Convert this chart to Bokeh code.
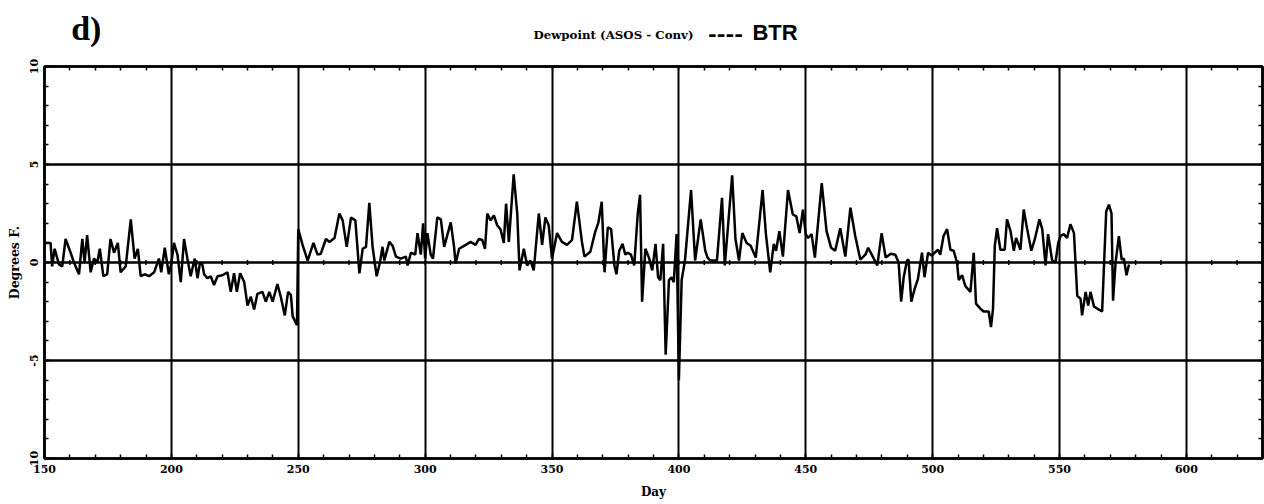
from bokeh.plotting import figure
from bokeh.layouts import column
from bokeh.models import LinearAxis, FixedTicker, Range1d
from bokeh.core.properties import value
from bokeh.embed import file_html
from bokeh.resources import INLINE

# ---- data ----
days = [150.0, 152.4, 153.0, 154.0, 155.7, 157.0, 158.3, 160.3, 161.6, 163.6, 164.9, 165.8, 166.8, 168.2,
        169.5, 170.8, 171.8, 173.2, 174.7, 176.0, 177.4, 178.9, 180.0, 182.0, 184.0, 185.5, 186.8, 187.9,
        189.5, 191.2, 193.2, 195.1, 196.0, 197.4, 199.0, 200.0, 201.0, 202.4, 203.7, 205.0, 206.3, 207.6,
        209.2, 210.3, 211.3, 212.2, 212.9, 214.2, 215.5, 216.8, 218.2, 220.1, 222.1, 223.4, 224.7, 225.8,
        227.1, 228.7, 230.0, 231.3, 232.6, 233.9, 235.9, 237.2, 238.6, 239.9, 241.8, 243.2, 244.7, 246.0,
        247.1, 247.8, 249.5, 250.0, 251.7, 253.7, 256.0, 257.6, 258.9, 260.9,
        262.3, 264.3, 266.2, 267.5, 269.1, 270.8, 272.5, 274.1, 275.4, 276.7, 278.0, 279.3, 280.9, 282.2,
        283.2, 283.9, 285.9, 287.2, 288.5, 290.4, 292.4, 293.1, 294.4, 296.1, 297.0, 298.3, 299.2, 300.0,
        300.9, 302.2, 303.1, 304.8, 306.2, 307.5, 310.1, 311.4, 312.0, 313.4, 316.0, 317.9, 319.9, 321.2,
        322.5, 323.6, 324.5, 325.8, 327.1, 328.4, 329.7, 331.0, 331.9, 333.0, 334.9, 336.3, 337.2, 338.9,
        340.2, 341.5, 342.8, 344.8, 346.1, 347.4, 348.7, 350.0, 352.0, 353.9, 355.9, 357.9, 359.8, 361.8,
        362.8, 365.1, 367.0, 368.3, 369.6, 370.7, 372.0, 373.3, 374.6,
        375.4, 376.5, 377.8, 378.9, 379.8, 381.1, 382.4, 383.8, 384.7, 385.5, 386.8, 388.2, 389.5, 390.8,
        391.8, 392.7, 393.8, 394.8, 396.1, 397.1, 398.0, 399.1, 400.0, 401.1, 402.4, 404.8, 406.4, 408.6,
        410.4, 411.3, 412.4, 415.0, 417.0, 418.1, 421.0, 422.3, 423.7, 425.0, 426.7, 428.3, 430.3, 433.0,
        434.3, 436.0, 437.4, 438.3, 439.6, 441.0, 443.0, 444.9, 446.3, 447.6, 448.9, 450.0, 450.9, 452.3,
        453.6, 456.3, 458.2, 460.0, 461.6, 463.6, 465.6, 467.6, 469.5, 471.5, 473.5, 474.6, 476.2, 478.2,
        479.9, 481.5, 483.5,
        485.3, 486.6, 487.6, 488.6, 489.9, 490.5, 491.6, 492.9, 494.2, 495.8, 496.8, 498.2, 499.7, 500.8,
        502.1, 503.0, 504.3, 505.7, 507.0, 508.3, 509.6, 510.3, 511.6, 512.9, 514.9, 516.2, 517.1, 518.8,
        520.1, 522.1, 523.0, 523.8, 524.5, 525.4, 526.7, 528.4, 529.3, 530.7, 532.0, 532.9, 534.6, 535.9,
        537.2, 538.9, 540.3, 542.1, 543.2, 544.5, 545.5, 547.1, 548.4, 549.5, 550.4, 551.7, 553.0, 554.3,
        555.7, 557.0, 558.3, 558.9, 560.3, 561.3, 562.2, 563.6, 564.9, 566.8, 568.4, 569.5, 570.5, 571.1,
        572.1, 573.4, 574.5, 575.4, 576.4, 577.4]

dewpoint_diff = [1.0, 1.0, -0.2, 0.7, -0.1, -0.2, 1.2, 0.5, 0.0, -0.6, 1.2, 0.0, 1.4, -0.5,
                 0.2, 0.0, 0.7, -0.7, -0.6, 1.2, 0.5, 1.0, -0.5, -0.2, 2.2, 0.2, 0.7, -0.7,
                 -0.6, -0.7, -0.5, 0.2, -0.5, 0.75, -0.6, -0.05, 1.0, 0.4, -1.0, 1.2, 0.2, -0.7,
                 0.2, -0.8, 0.0, -0.1, -0.6, -0.8, -0.7, -1.15, -0.7, -0.65, -0.5, -1.5, -0.55, -1.5,
                 -0.55, -1.0, -2.2, -1.75, -2.4, -1.6, -1.5, -2.0, -1.5, -2.0, -1.1, -1.8, -2.7, -1.5,
                 -1.65, -2.75, -3.2, 1.7, 0.9, 0.1, 1.0, 0.4, 0.45, 1.2,
                 1.05, 1.25, 2.5, 2.15, 0.8, 2.3, 2.15, -0.55, 0.7, 0.8, 3.05, 0.8, -0.7, 0.0,
                 0.8, 0.1, 1.05, 0.85, 0.3, 0.2, 0.3, -0.15, 0.5, 0.4, 1.5, 0.4, 2.0, 0.2,
                 1.5, 0.4, 0.2, 2.3, 2.2, 0.8, 2.05, 0.8, -0.05, 0.7, 0.9, 1.05, 0.9, 1.2,
                 1.15, 0.7, 2.5, 2.15, 2.4, 1.9, 1.7, 1.0, 3.0, 1.05, 4.5, 2.5, -0.4, 0.7,
                 -0.15, 0.1, -0.4, 2.5, 0.9, 2.3, 1.9, 0.2, 1.5, 1.05, 0.9, 1.15, 3.1, 1.05,
                 0.3, 0.55, 1.55, 2.05, 3.1, -0.5, 1.8, 1.7, -0.15,
                 -0.6, 0.6, 0.95, 0.4, 0.5, 0.4, -0.15, 2.5, 3.45, -2.0, 0.7, 0.25, -0.4, 0.95,
                 -0.75, -0.9, 0.95, -4.7, -0.9, -0.75, -1.0, 1.45, -6.0, -0.9, 0.1, 3.7, 0.1, 2.2,
                 0.6, 0.25, 0.1, 0.1, 3.3, -0.15, 4.45, 1.2, 0.1, 1.5, 1.0, 0.85, 0.25, 3.7,
                 1.45, -0.5, 0.95, 0.6, 1.6, 0.3, 3.7, 2.45, 2.35, 1.5, 2.7, 1.45, 1.25, 1.45,
                 0.25, 4.05, 1.6, 0.75, 0.6, 1.75, 0.3, 2.8, 1.35, 0.15, 0.4, 0.75, 0.35, -0.15,
                 1.5, 0.25, 0.45,
                 0.4, 0.0, -2.0, -0.75, 0.1, 0.15, -2.0, -1.35, -0.85, 0.5, -0.75, 0.5, 0.35, 0.5,
                 0.65, 0.4, 1.35, 1.7, 0.65, 0.6, 0.0, -0.9, -0.65, -1.2, -1.5, 0.5, -2.1, -2.35,
                 -2.5, -2.5, -3.3, -2.35, 0.85, 1.75, 0.65, 0.65, 2.2, 1.6, 0.6, 1.25, 0.65, 2.7,
                 1.75, 0.6, 1.2, 2.2, 1.7, -0.15, 1.45, 0.1, 0.0, 1.0, 1.35, 1.45, 1.25, 1.95,
                 1.5, -1.7, -1.85, -2.7, -1.5, -2.2, -1.5, -2.25, -2.35, -2.5, 2.6, 2.95, 2.5, -1.95,
                 0.0, 1.35, 0.15, 0.2, -0.65, -0.1]

x_ticks = [150, 200, 250, 300, 350, 400, 450, 500, 550, 600]
x_minor = list(range(150, 631, 10))
y_ticks = [-10, -5, 0, 5, 10]
y_minor = list(range(-10, 11, 1))
y_tick_labels = {-10: "10", -5: "-5", 0: "0", 5: "5", 10: "10"}
y_grid_values = [-5, 0, 5]

title_text = "Dewpoint (ASOS - Conv)"
dash_text = "----"
station_text = "BTR"
panel_tag = "d)"

FONT = "DejaVu Serif"
LEFT, RIGHT = 44, 2
HEAD_H = 50
TOTAL_W, TOTAL_H = 1264, 504
FRAME_TOP, FRAME_BOTTOM = 66, 458

x_range = Range1d(150, 630)

# ---- header strip (title + panel tag) ----
head = figure(width=TOTAL_W, height=HEAD_H, x_range=x_range, y_range=Range1d(0, HEAD_H),
              output_backend="svg", toolbar_location=None, x_axis_type=None, y_axis_type=None,
              min_border_left=LEFT, min_border_right=RIGHT, min_border_top=0, min_border_bottom=0,
              background_fill_color="white", border_fill_color="white")
head.outline_line_color = None
head.xgrid.visible = False
head.ygrid.visible = False
head.text(x=[160.5], y=[22.0], text=[panel_tag], text_font=value("Liberation Serif"),
          text_font_style="bold", text_font_size="34px", text_baseline="middle", text_align="left",
          text_color="black")
head.text(x=[342.7], y=[16.0], text=[title_text], text_font=value(FONT),
          text_font_style="bold", text_font_size="11.8px", text_baseline="middle", text_align="left",
          text_color="black")
head.text(x=[411.5], y=[17.5], text=[dash_text], text_font=value(FONT),
          text_font_style="bold", text_font_size="21px", text_baseline="middle", text_align="left",
          text_color="black")
head.text(x=[429.0], y=[18.5], text=[station_text], text_font=value("Liberation Sans"),
          text_font_style="bold", text_font_size="22px", text_baseline="middle", text_align="left",
          text_color="black")

# ---- main plot ----
p = figure(width=TOTAL_W, height=TOTAL_H - HEAD_H, x_range=x_range, y_range=Range1d(-10, 10),
           output_backend="svg", toolbar_location=None,
           min_border_left=LEFT, min_border_right=RIGHT, min_border_top=FRAME_TOP - HEAD_H,
           min_border_bottom=TOTAL_H - FRAME_BOTTOM,
           background_fill_color="white", border_fill_color="white")

p.outline_line_color = "black"
p.outline_line_width = 2.5
p.outline_line_alpha = 1.0

p.xgrid.ticker = FixedTicker(ticks=x_ticks)
p.xgrid.grid_line_color = "black"
p.xgrid.grid_line_width = 2.0
p.xgrid.grid_line_alpha = 1.0
p.ygrid.ticker = FixedTicker(ticks=y_grid_values)
p.ygrid.grid_line_color = "black"
p.ygrid.grid_line_width = 2.5
p.ygrid.grid_line_alpha = 1.0


def style_axis(ax, show_labels=True):
    ax.axis_line_color = "black"
    ax.axis_line_width = 2.5
    ax.major_tick_line_color = "black"
    ax.minor_tick_line_color = "black"
    ax.major_tick_line_width = 1.5
    ax.minor_tick_line_width = 1.5
    ax.major_tick_in = 5
    ax.major_tick_out = 0
    ax.minor_tick_in = 4
    ax.minor_tick_out = 0
    if show_labels:
        ax.major_label_text_font = FONT
        ax.major_label_text_font_style = "bold"
        ax.major_label_text_font_size = "11px"
        ax.major_label_text_color = "black"
        ax.axis_label_text_font = FONT
        ax.axis_label_text_font_style = "bold"
        ax.axis_label_text_font_size = "12px"
        ax.axis_label_text_color = "black"
    else:
        ax.major_label_standoff = 0


xa = p.xaxis[0]
xa.ticker = FixedTicker(ticks=x_ticks, minor_ticks=x_minor)
style_axis(xa)
xa.major_label_standoff = 6
xa.axis_label = "Day"
xa.axis_label_standoff = 9

ya = p.yaxis[0]
ya.ticker = FixedTicker(ticks=y_ticks, minor_ticks=y_minor)
style_axis(ya)
ya.major_label_orientation = "vertical"
ya.major_label_overrides = y_tick_labels
ya.major_label_standoff = 7
ya.axis_label = "Degrees F."
ya.axis_label_text_font_size = "12.5px"
ya.axis_label_standoff = 5

# top / right frame edges carry only the inward minor ticks (no labels)
top_ax = LinearAxis(ticker=FixedTicker(ticks=[], minor_ticks=x_minor))
style_axis(top_ax, show_labels=False)
p.add_layout(top_ax, "above")
right_ax = LinearAxis(ticker=FixedTicker(ticks=[], minor_ticks=y_minor))
style_axis(right_ax, show_labels=False)
p.add_layout(right_ax, "right")

# small tick marks along the zero line, every 10 days
p.segment(x0=x_minor, y0=[-0.13] * len(x_minor), x1=x_minor, y1=[0.13] * len(x_minor),
          line_color="black", line_width=1.5)

p.line(days, dewpoint_diff, line_color="black", line_width=2.5)

layout = column(head, p, spacing=0)
open("out.html", "w").write(file_html(layout, INLINE))
